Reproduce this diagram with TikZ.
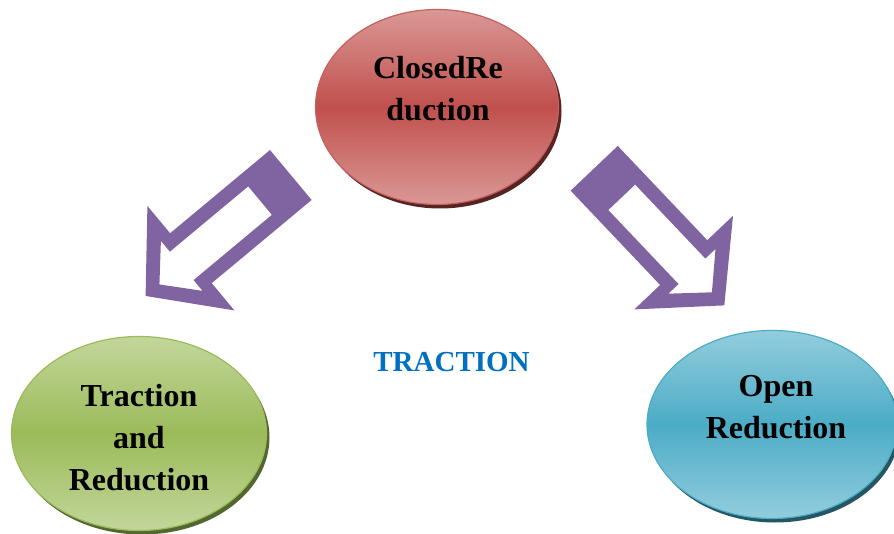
\documentclass[tikz,border=0pt]{standalone}
\usepackage{fontspec}
\setmainfont{Liberation Serif}
\usetikzlibrary{shapes.geometric,shadows}
\definecolor{purp}{RGB}{128,100,162}
\definecolor{redtop}{RGB}{218,152,150}
\definecolor{redmid}{RGB}{192,80,77}
\definecolor{grntop}{RGB}{195,214,155}
\definecolor{grnmid}{RGB}{155,187,89}
\definecolor{blutop}{RGB}{147,205,221}
\definecolor{blumid}{RGB}{75,172,198}
\definecolor{tblue}{RGB}{0,112,192}
\tikzset{
  bubble/.style={ellipse, inner sep=0pt, line width=1.2pt},
  btext/.style={font=\bfseries\fontsize{32}{42}\selectfont, align=center},
  holarrow/.pic={
    \fill[purp, even odd rule] (0,32.5) -- (130,32.5) -- (130,68) -- (189,0) -- (130,-68) -- (130,-32.5) -- (0,-32.5) -- cycle
      (40,18.5) -- (142,18.5) -- (142,32.5) -- (171,0) -- (142,-32.5) -- (142,-18.5) -- (40,-18.5) -- cycle;
  }
}
\begin{document}
\begin{tikzpicture}[x=1pt,y=1pt]
  \useasboundingbox (0,0) rectangle (894,533);
  % bubbles
  \node[bubble, minimum width=243, minimum height=195, draw=redmid!90!white,
    top color=redtop, bottom color=redtop, middle color=redmid,
    drop shadow={fill=redmid!45!black, opacity=1, shadow xshift=3pt, shadow yshift=-4pt}] (closed) at (437,426) {};
  \node[bubble, minimum width=255, minimum height=194, draw=grnmid,
    top color=grntop, bottom color=grntop, middle color=grnmid,
    drop shadow={fill=grnmid!55!black, opacity=1, shadow xshift=3pt, shadow yshift=-4pt}] (traction) at (139,99.5) {};
  \node[bubble, minimum width=250, minimum height=188, draw=blumid,
    top color=blutop, bottom color=blutop, middle color=blumid,
    drop shadow={fill=blumid!50!black, opacity=1, shadow xshift=3pt, shadow yshift=-4pt}] (open) at (772,108.5) {};
  % labels
  \node[btext] (closedtxt) at ([shift={(1,18)}]closed.center) {ClosedRe\\duction};
  \node[btext] (tractiontxt) at ([shift={(0,-4.5)}]traction.center) {Traction\\and\\Reduction};
  \node[btext] (opentxt) at ([shift={(4,17.5)}]open.center) {Open\\Reduction};
  \node[font=\bfseries\fontsize{29}{33}\selectfont, text=tblue] (title) at (451.5,171) {TRACTION};
  % arrows
  \pic[rotate=219.8] at (290.8,358) {holarrow};
  \pic[rotate=-46.5] at (594.2,364.7) {holarrow};
\end{tikzpicture}
\end{document}
